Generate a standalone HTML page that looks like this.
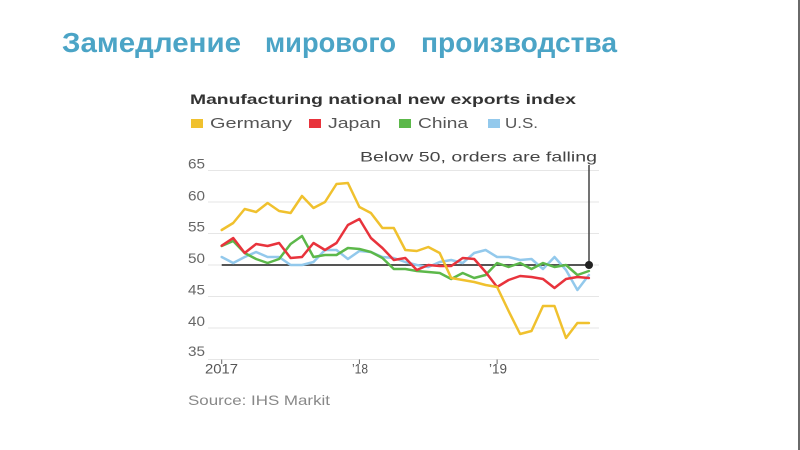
<!DOCTYPE html>
<html>
<head>
<meta charset="utf-8">
<style>
  html, body { margin:0; padding:0; background:#fff; }
  body { width:800px; height:450px; overflow:hidden; position:relative; }
  svg { position:absolute; left:0; top:0; }
  text { font-family: "Liberation Sans", "DejaVu Sans", sans-serif; }
</style>
</head>
<body>
<svg width="800" height="450" viewBox="0 0 800 450" xmlns="http://www.w3.org/2000/svg">
  <rect x="0" y="0" width="800" height="450" fill="#ffffff"/>
  <!-- right slide border -->
  <line x1="799" y1="0" x2="799" y2="450" stroke="#6a6a6a" stroke-width="2"/>

  <!-- Slide title -->
  <g fill="#4ba4c6" font-weight="bold" font-size="28">
    <text x="62" y="52" textLength="179" lengthAdjust="spacingAndGlyphs">Замедление</text>
    <text x="265" y="52" textLength="131" lengthAdjust="spacingAndGlyphs">мирового</text>
    <text x="421" y="52" textLength="196" lengthAdjust="spacingAndGlyphs">производства</text>
  </g>

  <!-- Chart title -->
  <text x="190" y="104" font-size="14" font-weight="bold" fill="#333" textLength="386" lengthAdjust="spacingAndGlyphs">Manufacturing national new exports index</text>

  <!-- Legend -->
  <g font-size="15" fill="#555">
    <rect x="191" y="119" width="12" height="9" fill="#f0c12e"/>
    <text x="210" y="128" textLength="82" lengthAdjust="spacingAndGlyphs">Germany</text>
    <rect x="309" y="119" width="12" height="9" fill="#e8333c"/>
    <text x="328" y="128" textLength="53" lengthAdjust="spacingAndGlyphs">Japan</text>
    <rect x="399" y="119" width="12" height="9" fill="#5cb84a"/>
    <text x="418" y="128" textLength="50" lengthAdjust="spacingAndGlyphs">China</text>
    <rect x="488" y="119" width="12" height="9" fill="#93c9ec"/>
    <text x="505" y="128" textLength="33" lengthAdjust="spacingAndGlyphs">U.S.</text>
  </g>

  <!-- Annotation -->
  <text x="360" y="161.5" font-size="14" fill="#444" textLength="237" lengthAdjust="spacingAndGlyphs">Below 50, orders are falling</text>

  <!-- Gridlines -->
  <g stroke="#e6e6e6" stroke-width="1">
    <line x1="208" y1="170.5" x2="599" y2="170.5"/>
    <line x1="208" y1="202" x2="599" y2="202"/>
    <line x1="208" y1="233.5" x2="599" y2="233.5"/>
    <line x1="208" y1="265" x2="599" y2="265"/>
    <line x1="208" y1="296.5" x2="599" y2="296.5"/>
    <line x1="208" y1="328" x2="599" y2="328"/>
    <line x1="208" y1="359.5" x2="599" y2="359.5"/>
  </g>

  <!-- Y labels -->
  <g font-size="13.5" fill="#666">
    <text x="188" y="168.5" textLength="17" lengthAdjust="spacingAndGlyphs">65</text>
    <text x="188" y="200.5" textLength="17" lengthAdjust="spacingAndGlyphs">60</text>
    <text x="188" y="231.5" textLength="17" lengthAdjust="spacingAndGlyphs">55</text>
    <text x="188" y="263" textLength="17" lengthAdjust="spacingAndGlyphs">50</text>
    <text x="188" y="294.5" textLength="17" lengthAdjust="spacingAndGlyphs">45</text>
    <text x="188" y="326" textLength="17" lengthAdjust="spacingAndGlyphs">40</text>
    <text x="188" y="356" textLength="17" lengthAdjust="spacingAndGlyphs">35</text>
  </g>

  <!-- X ticks -->
  <g stroke="#666" stroke-width="1">
    <line x1="221.7" y1="359.5" x2="221.7" y2="364"/>
    <line x1="359.4" y1="359.5" x2="359.4" y2="364"/>
    <line x1="497.1" y1="359.5" x2="497.1" y2="364"/>
  </g>
  <g font-size="14" fill="#555">
    <text x="205" y="373.5" textLength="33" lengthAdjust="spacingAndGlyphs">2017</text>
    <text x="352" y="373.5" textLength="16" lengthAdjust="spacingAndGlyphs">’18</text>
    <text x="489" y="373.5" textLength="18" lengthAdjust="spacingAndGlyphs">’19</text>
  </g>

  <!-- 50 line & marker line -->
  <line x1="221.7" y1="265" x2="589" y2="265" stroke="#555" stroke-width="2"/>
  <line x1="589" y1="165" x2="589" y2="265" stroke="#444" stroke-width="1.5"/>

  <!-- Series -->
  <g fill="none" stroke-width="2.5" stroke-linejoin="round" stroke-linecap="round">
    <polyline stroke="#93c9ec" points="221.7,257 233.2,263 244.7,257 256.1,252 267.6,257 279.1,257 290.6,265 302,265 313.5,262 325,250 336.5,250 347.9,259 359.4,251 370.9,252 382.4,257 393.8,258 405.3,262 416.8,265 428.3,267 439.7,262 451.2,260 462.7,263 474.2,253 485.6,250 497.1,257 508.6,257 520.1,260 531.5,259 543,269 554.5,257 566,270 577.4,290 588.9,275"/>
    <polyline stroke="#5cb84a" points="221.7,246 233.2,241 244.7,253 256.1,259 267.6,263 279.1,259 290.6,244 302,236 313.5,257 325,255 336.5,255 347.9,248 359.4,249 370.9,252 382.4,258 393.8,269 405.3,269 416.8,271 428.3,272 439.7,273 451.2,279 462.7,273 474.2,278 485.6,275 497.1,263 508.6,267 520.1,263 531.5,269 543,263 554.5,267 566,265 577.4,275 588.9,271"/>
    <polyline stroke="#e8333c" points="221.7,245.7 233.2,238 244.7,253 256.1,244 267.6,246 279.1,243 290.6,258 302,257 313.5,243 325,250 336.5,243 347.9,225 359.4,219 370.9,238 382.4,248 393.8,260 405.3,258 416.8,270 428.3,265 439.7,266 451.2,266 462.7,258 474.2,259 485.6,272 497.1,287 508.6,280 520.1,276 531.5,277 543,279 554.5,288 566,279 577.4,277 588.9,278"/>
    <polyline stroke="#f0c12e" points="221.7,230 233.2,223 244.7,209 256.1,212 267.6,203 279.1,211 290.6,213 302,196 313.5,208 325,202 336.5,184 347.9,183 359.4,207 370.9,213 382.4,228 393.8,228 405.3,250 416.8,251 428.3,247 439.7,253 451.2,278 462.7,280 474.2,282 485.6,285 497.1,287 508.6,311 520.1,334 531.5,331 543,306 554.5,306 566,338 577.4,323 588.9,323"/>
  </g>

  <circle cx="589" cy="265" r="4" fill="#222"/>

  <!-- Source -->
  <text x="188" y="405" font-size="14" fill="#888" textLength="142" lengthAdjust="spacingAndGlyphs">Source: IHS Markit</text>
</svg>
</body>
</html>
